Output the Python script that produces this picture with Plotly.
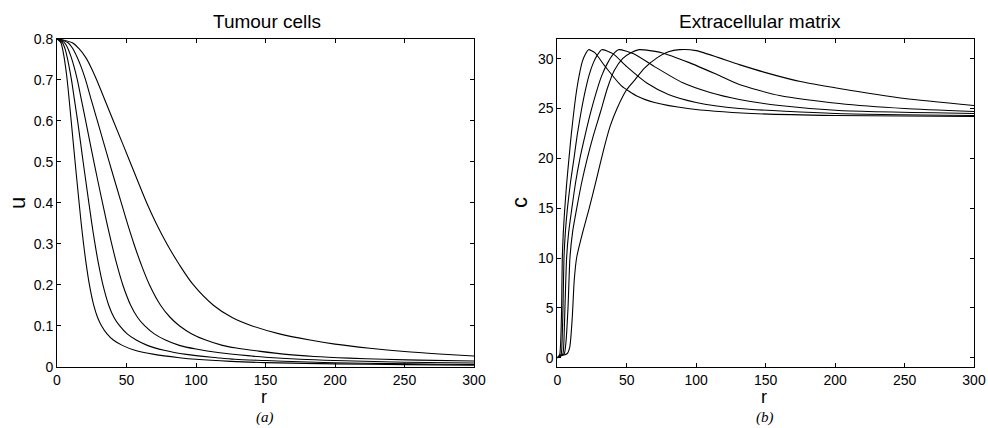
import plotly.graph_objects as go

# ---------------- data: tumour cells u(r) ----------------
u_r1 = [0, 2.8, 4, 5.1, 6.2, 7.3, 8.8, 10.2, 13, 15.9, 17.4, 19.1, 21, 23.3, 26.4, 29.2, 32, 36, 40.5, 47, 56, 70, 88, 100, 125, 150, 200, 250, 300]
u_v1 = [0.8, 0.79, 0.775, 0.755, 0.73, 0.7, 0.65, 0.6, 0.5, 0.4, 0.35, 0.3, 0.25, 0.2, 0.15, 0.12, 0.1, 0.08, 0.065, 0.052, 0.04, 0.03, 0.022, 0.018, 0.013, 0.01, 0.007, 0.005, 0.0035]
u_r2 = [0, 4, 5.8, 7.3, 8.8, 10.4, 12.6, 14.8, 18.8, 22.9, 25, 27.3, 29.9, 33, 37.2, 41, 45, 50.5, 57, 65, 77, 93, 115, 128, 150, 175, 200, 240, 275, 300]
u_v2 = [0.8, 0.79, 0.775, 0.755, 0.73, 0.7, 0.65, 0.6, 0.5, 0.4, 0.35, 0.3, 0.25, 0.2, 0.15, 0.12, 0.1, 0.08, 0.065, 0.052, 0.04, 0.03, 0.022, 0.018, 0.015, 0.012, 0.0095, 0.0075, 0.006, 0.0052]
u_r3 = [0, 5.5, 8, 10.2, 12.4, 14.6, 17.6, 20.6, 26.5, 32.7, 35.9, 39.3, 43, 47.3, 53, 58, 63, 70, 78, 88, 100, 117, 140, 150, 175, 200, 250, 300]
u_v3 = [0.8, 0.79, 0.775, 0.755, 0.73, 0.7, 0.65, 0.6, 0.5, 0.4, 0.35, 0.3, 0.25, 0.2, 0.15, 0.12, 0.1, 0.08, 0.065, 0.052, 0.043, 0.034, 0.026, 0.023, 0.018, 0.015, 0.011, 0.009]
u_r4 = [0, 8, 11.5, 14.5, 17.5, 20.5, 24.7, 29, 37.5, 46.2, 50.6, 55.3, 60.5, 66.5, 74.5, 81.5, 88, 97, 107, 119, 130, 145, 165, 185, 210, 235, 260, 300]
u_v4 = [0.8, 0.79, 0.775, 0.755, 0.73, 0.7, 0.65, 0.6, 0.5, 0.4, 0.35, 0.3, 0.25, 0.2, 0.15, 0.12, 0.1, 0.08, 0.065, 0.052, 0.045, 0.038, 0.03, 0.025, 0.021, 0.018, 0.016, 0.014]
u_r5 = [0, 11, 16, 20.5, 24.5, 28.5, 34.5, 40.5, 52.5, 64.5, 71.3, 79, 87.8, 98, 112.5, 126, 140, 160, 182, 200, 225, 250, 275, 300]
u_v5 = [0.8, 0.79, 0.775, 0.755, 0.73, 0.7, 0.65, 0.6, 0.5, 0.4, 0.35, 0.3, 0.25, 0.2, 0.15, 0.12, 0.1, 0.08, 0.065, 0.055, 0.045, 0.037, 0.031, 0.026]

# ---------------- data: extracellular matrix c(r) ----------------
c_r1 = [0, 1, 1.8, 2.4, 3.1, 3.6, 4.3, 5.3, 6.7, 8.4, 10, 12, 14, 16, 18, 20, 22.5, 27, 34, 46, 58, 70, 94, 140, 200, 300]
c_v1 = [0, 0.15, 0.35, 1.5, 5, 10, 12.5, 14.8, 17.4, 20, 22.3, 24.8, 26.9, 28.5, 29.7, 30.4, 30.9, 30.6, 29.3, 27.3, 26.2, 25.6, 25.0, 24.5, 24.3, 24.2]
c_r2 = [0, 1.5, 2.8, 3.4, 4.1, 4.8, 5.8, 7.3, 9.5, 12, 14.3, 17.3, 20, 23, 26, 29, 32, 40, 50, 65, 80, 100, 131, 200, 300]
c_v2 = [0, 0.15, 0.35, 1.5, 5, 10, 12.6, 15, 17.6, 20, 22.3, 24.8, 26.7, 28.4, 29.6, 30.4, 30.9, 30.5, 29.2, 27.5, 26.4, 25.6, 25.0, 24.5, 24.3]
c_r3 = [0, 2, 4, 4.7, 5.5, 6.7, 8.2, 10.5, 13.2, 16.3, 20, 24, 28, 32, 36, 40, 44, 55, 70, 90, 110, 131, 160, 203, 300]
c_v3 = [0, 0.2, 0.4, 1.5, 5, 10, 12.6, 15, 17.6, 20, 22.3, 24.6, 26.6, 28.3, 29.5, 30.4, 30.9, 30.5, 29.2, 27.6, 26.6, 25.9, 25.3, 24.8, 24.5]
c_r4 = [0, 2.5, 5, 6.2, 7.7, 9.1, 11, 14, 17.6, 21.6, 26, 31.2, 36, 41, 47, 53, 59, 75, 95, 115, 131, 160, 203, 250, 300]
c_v4 = [0, 0.2, 0.4, 1.5, 5, 10, 12.6, 15, 17.6, 20, 22.3, 24.7, 27.0, 28.8, 30.0, 30.6, 30.9, 30.6, 29.6, 28.4, 27.4, 26.3, 25.5, 25.0, 24.7]
c_r5 = [0, 3, 7, 9, 10.8, 12.2, 14, 18.7, 23, 28, 33.6, 38, 43, 50, 56, 62.4, 72, 80, 88, 100, 131, 150, 175, 203, 250, 300]
c_v5 = [0, 0.2, 0.4, 1.1, 4.1, 7.8, 10.1, 12.8, 15, 17.8, 21, 23.2, 25, 26.9, 27.9, 29, 30.1, 30.7, 30.9, 30.8, 29.4, 28.6, 27.7, 27.0, 26.0, 25.3]

x_ticks = [0, 50, 100, 150, 200, 250, 300]
u_ticks = [0, 0.1, 0.2, 0.3, 0.4, 0.5, 0.6, 0.7, 0.8]
c_ticks = [0, 5, 10, 15, 20, 25, 30]

u_series = [(u_r1, u_v1), (u_r2, u_v2), (u_r3, u_v3), (u_r4, u_v4), (u_r5, u_v5)]
c_series = [(c_r1, c_v1), (c_r2, c_v2), (c_r3, c_v3), (c_r4, c_v4), (c_r5, c_v5)]

W, H = 988, 428
fig = go.Figure()

uline = dict(color="black", width=1.1, shape="spline", smoothing=0.9)
cline = dict(color="black", width=1.1, shape="spline", smoothing=0.6)
for r, v in u_series:
    fig.add_trace(go.Scatter(x=r, y=v, mode="lines", line=uline, xaxis="x", yaxis="y",
                             showlegend=False, hoverinfo="skip"))
for r, v in c_series:
    fig.add_trace(go.Scatter(x=r, y=v, mode="lines", line=cline, xaxis="x2", yaxis="y2",
                             showlegend=False, hoverinfo="skip"))

FONT = "Liberation Sans, Arial, Helvetica, sans-serif"
tickfont = dict(family=FONT, size=14, color="black")

ax_common = dict(showline=True, linecolor="black", linewidth=1, mirror="ticks",
                 ticks="inside", ticklen=4, tickwidth=1, tickcolor="black",
                 showgrid=False, zeroline=False, tickfont=tickfont, automargin=False)

ydom = [1 - 366.7 / H, 1 - 38.7 / H]
x1dom = [57 / W, 474 / W]
x2dom = [557.3 / W, 974 / W]

fig.update_layout(
    width=W, height=H,
    margin=dict(l=0, r=0, t=0, b=0),
    paper_bgcolor="white", plot_bgcolor="white",
    xaxis=dict(domain=x1dom, range=[0, 300], tickvals=x_ticks, anchor="y", **ax_common),
    yaxis=dict(domain=ydom, range=[0, 0.8], tickvals=u_ticks, anchor="x", **ax_common),
    xaxis2=dict(domain=x2dom, range=[0, 300], tickvals=x_ticks, anchor="y2", **ax_common),
    yaxis2=dict(domain=ydom, range=[-0.9, 32], tickvals=c_ticks, anchor="x2", **ax_common),
)

def ann(text, x, y, size, family=FONT, angle=0):
    fig.add_annotation(text=text, x=x / W, y=1 - y / H, xref="paper", yref="paper",
                       showarrow=False, xanchor="center", yanchor="middle",
                       textangle=angle, font=dict(family=family, size=size, color="black"))

ann("Tumour cells", 267, 21, 19)
ann("Extracellular matrix", 760, 21, 19)
ann("r", 264, 397, 18)
ann("r", 764, 397, 18)
ann("u", 17, 203, 22, angle=-90)
ann("c", 519, 203, 22, angle=-90)
ann("<i>(a)</i>", 265, 417, 15, family="Liberation Serif, Times New Roman, serif")
ann("<i>(b)</i>", 765, 417, 15, family="Liberation Serif, Times New Roman, serif")

fig.write_html("out.html", config={"displayModeBar": False},
               post_script="document.body.style.margin='0px';document.body.style.overflow='hidden';")
